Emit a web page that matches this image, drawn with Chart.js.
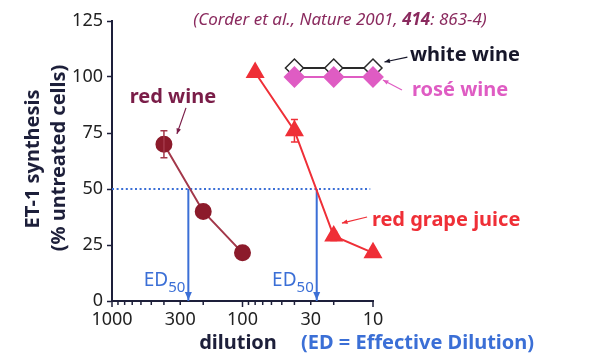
<!DOCTYPE html>
<html><head><meta charset="utf-8">
<script src="https://cdn.jsdelivr.net/npm/chart.js@4/dist/chart.umd.min.js"></script>
<style>html,body{margin:0;padding:0;background:#fff}canvas{display:block}</style>
</head><body>
<canvas id="c" width="591" height="356"></canvas>
<script>
// ---- data ----
const redWineDilution = [400, 200, 100];
const redWineValues   = [70, 40, 21.5];
const redWineErr      = [6, 0, 0];

const juiceDilution = [80, 40, 20, 10];
const juiceValues   = [102, 76, 29, 21.5];
const juiceErr      = [0, 5, 2, 0];

const whiteDilution = [40, 20, 10];
const whiteValues   = [104, 104, 104];

const roseDilution = [40, 20, 10];
const roseValues   = [100, 100, 100];

const ed50Dilution = [260, 27];   // red wine, red grape juice
const ed50Level    = 50;
const refLineDilution = [1000, 10.5];

const xTickValues  = [1000,900,800,700,600,500,400,300,200,100,90,80,70,60,50,40,30,20,10];
const xTickLabels  = [1000, 300, 100, 30, 10];
const xMajorTicks  = [1000, 100, 10];
const yTickValues  = [0, 25, 50, 75, 100, 125];

// ---- styling ----
const AXIS = '#1d1f3a';
const BLUE = '#3b6fd6';
const MAROON = '#8c1b2b';
const MAROON_LINE = '#a3384a';
const MAROON_TEXT = '#7a1d48';
const RED = '#ef2f37';
const PINK = '#df5cc3';
const FONT = '"Noto Sans", "DejaVu Sans", sans-serif';

const pts = (xs, ys) => xs.map((x, i) => ({x, y: ys[i]}));

const datasets = [
  {label:'ref', data: refLineDilution.map(x => ({x, y: ed50Level})), showLine:true, borderColor:BLUE, borderWidth:2, borderDash:[2,2.6], pointRadius:0, order:10},
  {label:'ed1', data: [{x:ed50Dilution[0], y:ed50Level},{x:ed50Dilution[0], y:0}], showLine:true, borderColor:BLUE, borderWidth:2, pointRadius:0, order:9},
  {label:'ed2', data: [{x:ed50Dilution[1], y:ed50Level},{x:ed50Dilution[1], y:0}], showLine:true, borderColor:BLUE, borderWidth:2, pointRadius:0, order:9},
  {label:'white wine', data: pts(whiteDilution, whiteValues), showLine:true, borderColor:'#2a2a2a', borderWidth:2,
    pointStyle:'rectRot', pointRadius:9, pointBackgroundColor:'#ffffff', pointBorderColor:'#2a2a2a', pointBorderWidth:1.5, order:8},
  {label:'rosé wine', data: pts(roseDilution, roseValues), showLine:true, borderColor:PINK, borderWidth:2,
    pointStyle:'rectRot', pointRadius:9.5, pointBackgroundColor:PINK, pointBorderColor:PINK, order:7},
  {label:'red wine', data: pts(redWineDilution, redWineValues), showLine:true, borderColor:MAROON_LINE, borderWidth:2,
    pointStyle:'circle', pointRadius:7.5, pointBackgroundColor:MAROON, pointBorderColor:MAROON, order:2, err: redWineErr, errColor: MAROON_LINE},
  {label:'red grape juice', data: pts(juiceDilution, juiceValues), showLine:true, borderColor:RED, borderWidth:2,
    pointStyle:'triangle', pointRadius:9, pointBackgroundColor:RED, pointBorderColor:RED, order:1, err: juiceErr, errColor: RED}
];
datasets.forEach(d => { d.clip = false; });

function arrow(ctx, x1, y1, x2, y2, color, w, head) {
  ctx.save();
  ctx.strokeStyle = color; ctx.fillStyle = color; ctx.lineWidth = w;
  ctx.beginPath(); ctx.moveTo(x1, y1); ctx.lineTo(x2, y2); ctx.stroke();
  const a = Math.atan2(y2 - y1, x2 - x1);
  ctx.beginPath();
  ctx.moveTo(x2, y2);
  ctx.lineTo(x2 - head * Math.cos(a - 0.4), y2 - head * Math.sin(a - 0.4));
  ctx.lineTo(x2 - head * Math.cos(a + 0.4), y2 - head * Math.sin(a + 0.4));
  ctx.closePath(); ctx.fill();
  ctx.restore();
}

const errorBars = {
  id: 'errorBars',
  afterDatasetsDraw(chart) {
    const {ctx, scales:{x, y}} = chart;
    chart.data.datasets.forEach(ds => {
      if (!ds.err) return;
      ds.data.forEach((p, i) => {
        const e = ds.err[i]; if (!e) return;
        const px = x.getPixelForValue(p.x);
        const t = y.getPixelForValue(p.y + e), b = y.getPixelForValue(p.y - e);
        ctx.save(); ctx.strokeStyle = ds.errColor; ctx.lineWidth = 1.5;
        ctx.beginPath();
        ctx.moveTo(px, t); ctx.lineTo(px, b);
        ctx.moveTo(px - 3.5, t); ctx.lineTo(px + 3.5, t);
        ctx.moveTo(px - 3.5, b); ctx.lineTo(px + 3.5, b);
        ctx.stroke(); ctx.restore();
      });
    });
  }
};

const annotations = {
  id: 'annotations',
  afterDraw(chart) {
    const {ctx, scales:{x, y}, chartArea} = chart;
    const X = v => x.getPixelForValue(v), Y = v => y.getPixelForValue(v);
    ctx.save();
    // x minor/major tick marks
    ctx.strokeStyle = AXIS; ctx.lineWidth = 1.5;
    xTickValues.forEach(v => {
      const px = X(v), len = xMajorTicks.includes(v) ? 6 : 4;
      ctx.beginPath(); ctx.moveTo(px, chartArea.bottom); ctx.lineTo(px, chartArea.bottom + len); ctx.stroke();
    });
    // arrowheads on ED lines
    ed50Dilution.forEach(d => {
      const px = X(d), py = Y(0);
      ctx.fillStyle = BLUE;
      ctx.beginPath(); ctx.moveTo(px, py - 1); ctx.lineTo(px - 3.5, py - 9); ctx.lineTo(px + 3.5, py - 9); ctx.closePath(); ctx.fill();
    });
    // ED50 labels
    ed50Dilution.forEach(d => {
      const right = X(d) - 3, base = Y(0) - 15;
      ctx.fillStyle = BLUE; ctx.textBaseline = 'alphabetic';
      ctx.font = '15px ' + FONT; const sw = ctx.measureText('50').width;
      ctx.textAlign = 'right'; ctx.fillText('50', right, base + 6);
      ctx.font = '19px ' + FONT; ctx.fillText('ED', right - sw, base);
    });
    ctx.textBaseline = 'middle';
    // red wine
    ctx.font = 'bold 20px ' + FONT; ctx.fillStyle = MAROON_TEXT; ctx.textAlign = 'center';
    ctx.fillText('red wine', X(341), Y(91.1));
    arrow(ctx, X(271), Y(86.2), X(318), Y(74.6), MAROON_TEXT, 1.2, 6);
    // white wine
    ctx.textAlign = 'left'; ctx.fillStyle = '#17172a';
    ctx.fillText('white wine', X(5.21), Y(109.8));
    arrow(ctx, X(5.45), Y(108.9), X(8.17), Y(106.7), '#17172a', 1.2, 6);
    // rosé wine
    ctx.fillStyle = PINK;
    ctx.fillText('rosé wine', X(5.03), Y(94.2));
    arrow(ctx, X(6.0), Y(94.2), X(8.4), Y(98.7), PINK, 1.2, 6);
    // red grape juice
    ctx.fillStyle = RED;
    ctx.fillText('red grape juice', X(10.2), Y(36.2));
    arrow(ctx, X(11.1), Y(37.5), X(17.3), Y(34.8), RED, 1.2, 6);
    // citation
    ctx.fillStyle = '#8a2a5e';
    const c1 = '(Corder et al., Nature 2001, ', c2 = '414', c3 = ': 863-4)';
    ctx.font = 'italic 17px ' + FONT; const w1 = ctx.measureText(c1).width, w3 = ctx.measureText(c3).width;
    ctx.font = 'italic bold 17px ' + FONT; const w2 = ctx.measureText(c2).width;
    let cx = 340 - (w1 + w2 + w3) / 2;
    ctx.font = 'italic 17px ' + FONT; ctx.fillText(c1, cx, 20); cx += w1;
    ctx.font = 'italic bold 17px ' + FONT; ctx.fillText(c2, cx, 20); cx += w2;
    ctx.font = 'italic 17px ' + FONT; ctx.fillText(c3, cx, 20);
    // axis titles
    ctx.fillStyle = AXIS; ctx.font = 'bold 20px ' + FONT; ctx.textAlign = 'center';
    ctx.fillText('dilution', 238, 343);
    ctx.fillStyle = BLUE; ctx.textAlign = 'left';
    ctx.fillText('(ED = Effective Dilution)', 301, 343);
    ctx.fillStyle = AXIS;
    ctx.translate(33, 159); ctx.rotate(-Math.PI / 2);
    ctx.textAlign = 'center';
    ctx.fillText('ET-1 synthesis', 0, 0);
    ctx.setTransform(1, 0, 0, 1, 0, 0);
    ctx.translate(59, 158); ctx.rotate(-Math.PI / 2);
    ctx.fillText('(% untreated cells)', 0, 0);
    ctx.restore();
  }
};

new Chart(document.getElementById('c'), {
  type: 'scatter',
  data: { datasets },
  options: {
    responsive: false, animation: false, devicePixelRatio: 1,
    layout: { padding: { top: 21, right: 218, left: 0, bottom: 0 } },
    plugins: { legend: { display: false }, tooltip: { enabled: false } },
    scales: {
      x: {
        type: 'logarithmic', min: 10, max: 1000, reverse: true,
        afterBuildTicks: s => { s.ticks = xTickValues.map(v => ({value: v})); },
        afterFit: s => { s.height = 55; },
        border: { display: true, color: AXIS, width: 2 },
        grid: { display: true, drawOnChartArea: false, drawTicks: false },
        ticks: { autoSkip: false, maxRotation: 0, padding: 8, color: '#222',
          font: { family: FONT, size: 18 },
          callback: v => xTickLabels.includes(v) ? String(v) : '' }
      },
      y: {
        min: 0, max: 125,
        afterBuildTicks: s => { s.ticks = yTickValues.map(v => ({value: v})); },
        afterFit: s => { s.width = 112; },
        border: { display: true, color: AXIS, width: 2 },
        grid: { display: true, drawOnChartArea: false, drawTicks: true, tickLength: 5, color: AXIS, tickWidth: 1.5 },
        ticks: { padding: 4, color: '#222', font: { family: FONT, size: 18 } }
      }
    }
  },
  plugins: [errorBars, annotations]
});
</script>
</body></html>
